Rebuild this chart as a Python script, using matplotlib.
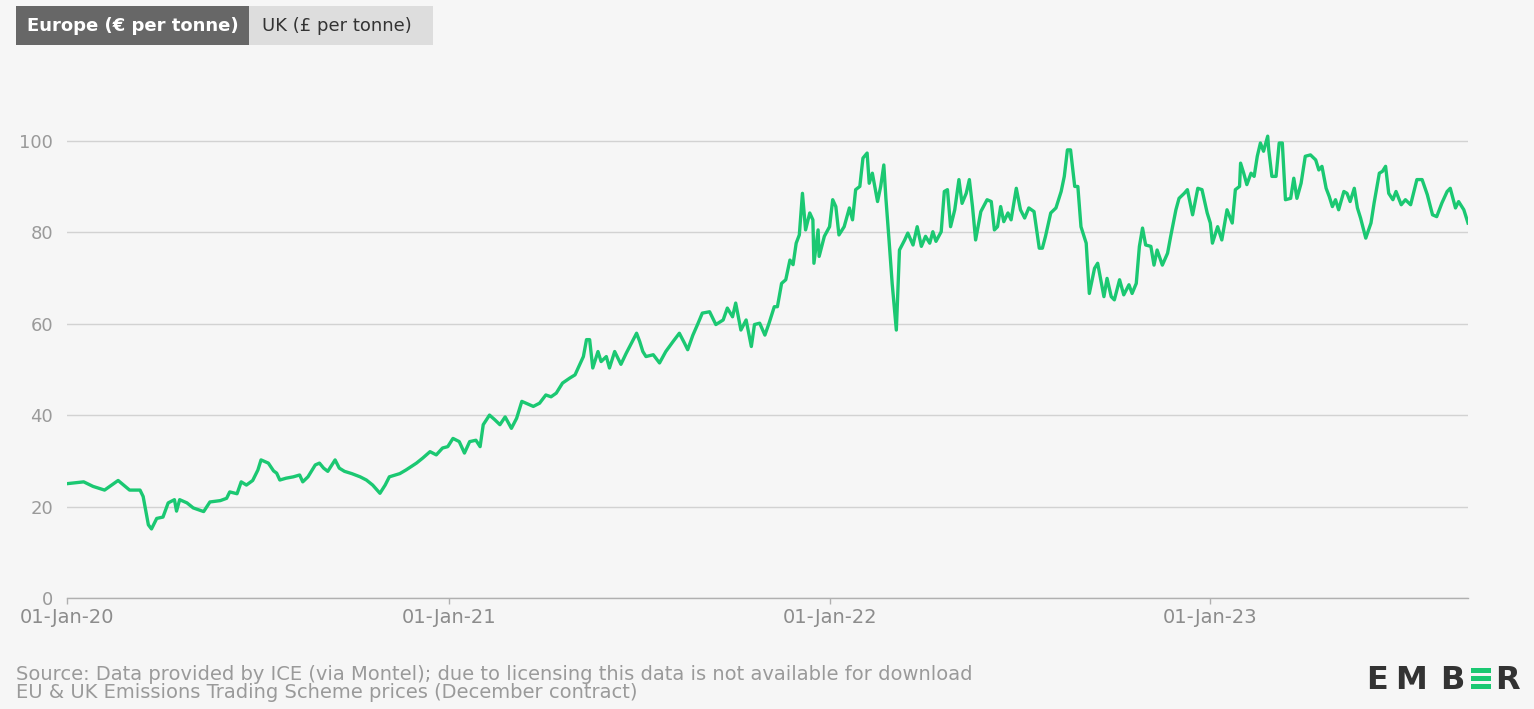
import pandas as pd
import matplotlib
matplotlib.use('Agg')
import matplotlib.pyplot as plt
import matplotlib.dates as mdates
from matplotlib.patches import Rectangle

# EUA December contract, € per tonne; days counted from 01-Jan-2020
days = [0, 16, 25, 36, 49, 60, 70, 73, 78, 81, 86, 92, 97, 103, 105, 108, 115, 121,
        131, 137, 147, 153, 156, 163, 167, 172, 178, 183, 186, 193, 198, 201, 204, 210,
        217, 223, 226, 231, 238, 242, 246, 250, 257, 261, 266, 273, 281, 287, 293, 300,
        305, 309, 319, 325, 335, 341, 348, 354, 360, 365, 370, 376, 381, 386, 392, 396,
        399, 405, 410, 415, 420, 426, 431, 436, 440, 447, 453, 459, 464, 469, 475, 482,
        487, 490, 495, 498, 501, 504, 509, 512, 517, 520, 525, 531, 536, 541, 546, 549,
        552, 555, 562, 568, 574, 581, 587, 592, 595, 600, 605, 609, 616, 622, 629, 633,
        638, 641, 646, 651, 656, 659, 664, 669, 673, 678, 681, 685, 689, 693, 696, 699,
        702, 705, 708, 712, 715, 716, 720, 721, 726, 731, 734, 737, 740, 745, 750, 753,
        756, 760, 763, 767, 769, 772, 777, 780, 783, 785, 788, 791, 795, 798, 803, 806,
        811, 815, 819, 823, 827, 830, 833, 838, 841, 844, 847, 851, 855, 858, 862, 865,
        868, 871, 876, 882, 886, 889, 892, 895, 898, 902, 905, 910, 914, 918, 922, 927,
        932, 935, 938, 943, 948, 953, 956, 959, 962, 966, 969, 972, 977, 980, 985, 988,
        991, 994, 997, 1001, 1004, 1009, 1013, 1018, 1021, 1025, 1028, 1031, 1034, 1039,
        1042, 1045, 1050, 1055, 1058, 1063, 1066, 1071, 1074, 1079, 1084, 1088, 1093,
        1096, 1098, 1103, 1107, 1112, 1117, 1120, 1124, 1125, 1128, 1131, 1135, 1138,
        1141, 1144, 1147, 1151, 1152, 1155, 1159, 1162, 1165, 1168, 1173, 1176, 1179,
        1183, 1187, 1192, 1197, 1200, 1203, 1207, 1210, 1213, 1216, 1219, 1224, 1227,
        1230, 1234, 1237, 1240, 1245, 1250, 1253, 1258, 1261, 1264, 1267, 1271, 1274,
        1279, 1283, 1288, 1294, 1299, 1304, 1309, 1313, 1318, 1323, 1326, 1331, 1334,
        1339, 1343]
prices = [25, 25.4, 24.4, 23.6, 25.7, 23.6, 23.6, 22.2, 16, 15.1, 17.4, 17.7, 20.8, 21.5,
          19, 21.5, 20.8, 19.7, 18.9, 21, 21.3, 21.8, 23.2, 22.8, 25.4, 24.7, 25.7, 28,
          30.2, 29.5, 27.8, 27.3, 25.8, 26.2, 26.5, 26.9, 25.4, 26.5, 29.1, 29.5, 28.4,
          27.7, 30.2, 28.4, 27.7, 27.2, 26.5, 25.8, 24.7, 22.9, 24.7, 26.5, 27.2, 28, 29.5,
          30.6, 32, 31.3, 32.8, 33.1, 34.9, 34.2, 31.7, 34.2, 34.5, 33.1, 37.9, 40, 39,
          37.9, 39.6, 37.1, 39.3, 43, 42.6, 41.9, 42.6, 44.4, 44, 44.8, 47, 48.1, 48.8,
          50.3, 52.8, 56.5, 56.5, 50.3, 53.9, 51.7, 52.8, 50.3, 53.9, 51.1, 53.5, 55.7,
          57.9, 56.1, 53.9, 52.8, 53.2, 51.4, 53.9, 56.1, 57.9, 55.7, 54.3, 57.5, 60.1,
          62.3, 62.6, 59.8, 60.8, 63.4, 61.5, 64.5, 58.6, 60.8, 55, 59.8, 60.1, 57.5, 60.1,
          63.7, 63.7, 68.8, 69.6, 73.9, 72.9, 77.6, 79.4, 88.5, 80.5, 84.2, 82.7, 73.2,
          80.5, 74.7, 79.1, 81.2, 87.1, 85.6, 79.4, 81.2, 85.3, 82.7, 89.3, 90, 96.2, 97.3,
          90.7, 92.9, 86.7, 90, 94.7, 87.4, 78.3, 68.8, 58.6, 76.1, 78.3, 79.8, 77.2, 81.2,
          76.9, 79.1, 77.6, 80.1, 78, 80.1, 88.9, 89.3, 81.2, 84.9, 91.5, 86.3, 88.5, 91.5,
          85.6, 78.3, 84.5, 87.1, 86.7, 80.5, 81.2, 85.6, 82.3, 84.2, 82.7, 89.6, 84.9,
          83.1, 85.3, 84.5, 76.5, 76.5, 79.1, 84.2, 85.3, 88.9, 92.2, 98, 98, 90, 90, 81.2,
          77.6, 66.6, 72.1, 73.2, 69.6, 65.9, 69.9, 65.9, 65.2, 69.6, 66.3, 68.5, 66.6,
          68.8, 76.9, 80.9, 77.2, 76.9, 72.8, 76.1, 72.8, 75.4, 79.1, 84.9, 87.4, 88.5,
          89.3, 83.8, 89.6, 89.3, 84.2, 82, 77.6, 81.2, 78.3, 84.9, 82, 89.3, 90, 95.1,
          92.9, 90.4, 92.9, 92.2, 96.6, 99.5, 97.7, 101, 98, 92.2, 92.2, 99.5, 99.5, 87.1,
          87.4, 91.8, 87.4, 90.7, 96.6, 96.9, 95.8, 93.6, 94.4, 89.6, 87.8, 85.6, 87.1,
          84.9, 88.9, 88.5, 86.7, 89.6, 85.3, 83.1, 78.7, 82, 86.4, 92.9, 93.3, 94.4, 88.5,
          87.1, 88.9, 86, 87.1, 86, 91.5, 91.5, 88.2, 83.8, 83.4, 86.4, 88.9, 89.6, 85.3,
          86.7, 84.9, 82]

year_ticks = ['2020-01-01', '2021-01-01', '2022-01-01', '2023-01-01']
y_ticks = [0, 20, 40, 60, 80, 100]
tabs = ['Europe (€ per tonne)', 'UK (£ per tonne)']
source_line = ('Source: Data provided by ICE (via Montel); due to licensing '
               'this data is not available for download')
note_line = 'EU & UK Emissions Trading Scheme prices (December contract)'

dates = pd.Timestamp('2020-01-01') + pd.to_timedelta(days, unit='D')

W, H = 1534, 709
bg = '#f6f6f6'
green = '#1bc872'
grey_txt = '#9a9a9a'

plt.rcParams['font.family'] = ['DejaVu Sans']

fig = plt.figure(figsize=(W / 100, H / 100), dpi=100, facecolor=bg)


def fx(x):
    return x / W


def fy(y):
    return 1 - y / H


ax = fig.add_axes([fx(67), fy(598), fx(1468) - fx(67), (598 - 95) / H])
ax.set_facecolor(bg)
ax.plot(dates, prices, color=green, lw=2.4, solid_joinstyle='round')

ax.set_ylim(0, 110)
ax.set_xlim(dates[0], dates[-1])
ax.set_yticks(y_ticks)
ax.set_xticks(pd.to_datetime(year_ticks))
ax.xaxis.set_major_formatter(mdates.DateFormatter('%d-%b-%y'))

ax.grid(axis='y', color='#d2d2d2', lw=1)
ax.set_axisbelow(True)
for s in ['top', 'right', 'left']:
    ax.spines[s].set_visible(False)
ax.spines['bottom'].set_color('#b0b0b0')
ax.spines['bottom'].set_linewidth(1)

ax.tick_params(axis='y', length=0, pad=10, labelsize=13, labelcolor=grey_txt)
ax.tick_params(axis='x', length=4, width=1, color='#b0b0b0', pad=3,
               labelsize=14, labelcolor='#8c8c8c')

# tab buttons at the top
fig.add_artist(Rectangle((fx(16), fy(45)), fx(249) - fx(16), (45 - 6) / H,
                         transform=fig.transFigure, color='#676767', lw=0))
fig.add_artist(Rectangle((fx(249), fy(45)), fx(433) - fx(249), (45 - 6) / H,
                         transform=fig.transFigure, color='#dddddd', lw=0))
fig.text(fx(27), fy(26), tabs[0], color='white', fontsize=13,
         fontweight='bold', va='center', ha='left')
fig.text(fx(262), fy(26), tabs[1], color='#333333', fontsize=13,
         va='center', ha='left')

# footer
fig.text(fx(16), fy(680), source_line, color=grey_txt, fontsize=14, va='baseline')
fig.text(fx(16), fy(698), note_line, color=grey_txt, fontsize=14, va='baseline')

# logo
logo_kw = dict(color='#333333', fontsize=23, fontweight='bold', va='baseline', ha='left')
fig.text(fx(1366), fy(689), 'E', **logo_kw)
fig.text(fx(1395), fy(689), 'M', **logo_kw)
fig.text(fx(1440), fy(689), 'B', **logo_kw)
fig.text(fx(1495), fy(689), 'R', **logo_kw)
for top in [668, 676, 684]:
    fig.add_artist(Rectangle((fx(1471), fy(top + 5)), fx(1491) - fx(1471), 5 / H,
                             transform=fig.transFigure, color=green, lw=0))

fig.savefig('out.png', dpi=100, facecolor=bg)
